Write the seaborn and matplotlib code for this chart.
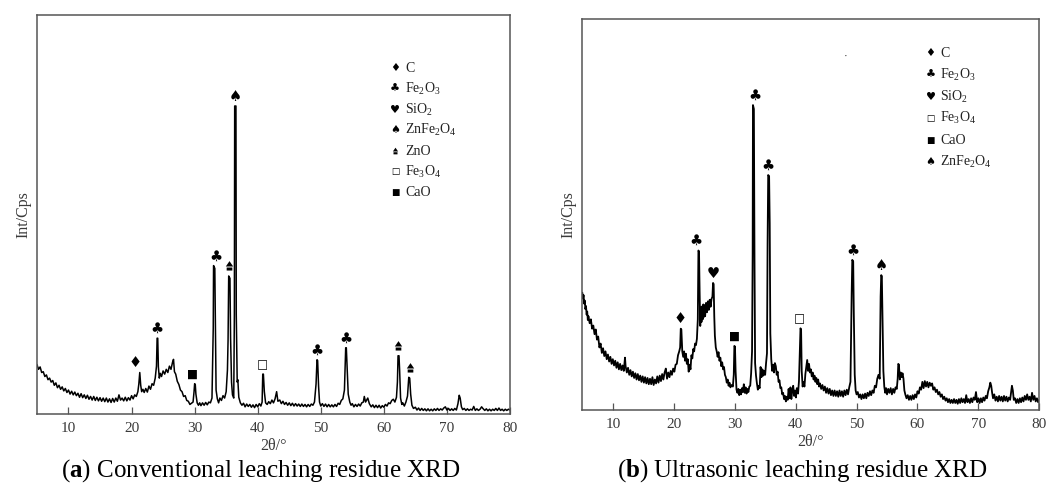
import numpy as np
import matplotlib
matplotlib.use("Agg")
import matplotlib.pyplot as plt
import matplotlib.transforms as mtransforms
from matplotlib.path import Path
import seaborn as sns

# ---------------------------------------------------------------------------
# XRD patterns: (2θ in degrees, intensity in arbitrary counts)
# ---------------------------------------------------------------------------
conv_pattern = [
    (5.0, 124), (5.25, 112), (5.5, 118), (5.75, 104),
    (6.0, 106), (6.25, 94), (6.5, 98), (6.75, 86),
    (7.0, 90), (7.25, 80), (7.5, 84), (7.75, 72),
    (8.0, 78), (8.25, 66), (8.5, 72), (8.75, 62),
    (9.0, 68), (9.25, 58), (9.5, 64), (9.75, 54),
    (10.0, 60), (10.25, 50), (10.5, 57), (10.75, 48),
    (11.0, 55), (11.25, 46), (11.5, 52), (11.75, 42),
    (12.0, 51), (12.25, 41), (12.5, 48), (12.75, 39),
    (13.0, 47), (13.25, 37), (13.5, 44), (13.75, 35),
    (14.0, 44), (14.25, 34), (14.5, 42), (14.75, 33),
    (15.0, 41), (15.25, 32), (15.5, 40), (15.75, 31),
    (16.0, 40), (16.25, 30), (16.5, 38), (16.75, 29),
    (17.0, 39), (17.25, 30), (17.5, 40), (17.75, 32),
    (18.0, 48), (18.25, 35), (18.5, 40), (18.75, 33),
    (19.0, 42), (19.25, 33), (19.5, 41), (19.75, 35),
    (20.0, 46), (20.25, 38), (20.5, 48), (20.75, 44),
    (21.0, 56), (21.15, 75), (21.3, 104), (21.45, 72), (21.6, 56), (21.8, 62),
    (22.0, 54), (22.25, 64), (22.5, 55), (22.75, 70),
    (23.0, 62), (23.25, 76), (23.5, 72), (23.75, 90),
    (23.95, 120), (24.05, 190), (24.15, 190), (24.25, 118), (24.4, 90), (24.55, 102),
    (24.75, 94), (25.0, 108), (25.25, 100), (25.5, 112), (25.75, 104), (26.0, 120),
    (26.25, 112), (26.5, 130), (26.65, 137), (26.8, 106),
    (27.0, 100), (27.25, 82), (27.5, 74), (27.75, 60),
    (28.0, 56), (28.25, 44), (28.5, 46), (28.75, 34),
    (29.0, 32), (29.25, 24), (29.5, 27), (29.75, 30),
    (29.9, 55), (30.0, 76), (30.1, 74), (30.2, 50), (30.4, 28), (30.6, 22), (30.8, 28),
    (31.0, 21), (31.25, 28), (31.5, 22), (31.75, 29),
    (32.0, 23), (32.25, 30), (32.5, 28), (32.75, 40),
    (32.95, 215), (33.0, 372), (33.2, 365), (33.3, 205), (33.4, 60), (33.6, 38), (33.8, 28),
    (34.0, 40), (34.25, 34), (34.5, 46), (34.75, 40),
    (35.0, 56), (35.2, 110), (35.3, 185), (35.4, 346), (35.6, 340), (35.7, 190),
    (35.85, 80), (36.0, 48), (36.2, 40),
    (36.3, 250), (36.35, 772), (36.55, 772), (36.6, 250), (36.75, 80), (36.85, 86), (37.0, 42),
    (37.25, 28), (37.5, 22), (37.75, 27),
    (38.0, 18), (38.25, 25), (38.5, 19), (38.75, 24),
    (39.0, 17), (39.25, 23), (39.5, 16), (39.75, 24),
    (40.0, 18), (40.25, 26), (40.5, 20), (40.7, 30),
    (40.8, 100), (40.9, 100), (41.05, 56), (41.25, 28), (41.5, 24), (41.75, 31),
    (42.0, 26), (42.25, 35), (42.5, 28), (42.75, 38),
    (43.0, 56), (43.2, 32), (43.5, 35), (43.75, 26),
    (44.0, 32), (44.25, 24), (44.5, 29), (44.75, 22),
    (45.0, 28), (45.25, 21), (45.5, 27), (45.75, 20),
    (46.0, 26), (46.25, 20), (46.5, 25), (46.75, 19),
    (47.0, 25), (47.25, 19), (47.5, 24), (47.75, 18),
    (48.0, 24), (48.25, 19), (48.5, 25), (48.75, 22),
    (49.0, 30), (49.25, 75), (49.4, 136), (49.5, 134), (49.65, 70), (49.8, 30),
    (50.0, 20), (50.25, 26), (50.5, 19), (50.75, 25),
    (51.0, 18), (51.25, 24), (51.5, 18), (51.75, 23),
    (52.0, 18), (52.25, 24), (52.5, 19), (52.75, 27),
    (53.0, 24), (53.25, 34), (53.5, 38), (53.75, 60),
    (53.95, 166), (54.05, 166), (54.2, 110), (54.35, 50), (54.6, 30), (54.8, 22),
    (55.0, 26), (55.25, 18), (55.5, 24), (55.75, 19),
    (56.0, 25), (56.25, 20), (56.5, 28), (56.75, 30),
    (56.9, 44), (57.1, 30), (57.3, 36), (57.45, 40), (57.7, 26),
    (58.0, 18), (58.25, 23), (58.5, 16), (58.75, 22),
    (59.0, 16), (59.25, 22), (59.5, 15), (59.75, 21),
    (60.0, 17), (60.25, 24), (60.5, 20), (60.75, 28),
    (61.0, 26), (61.25, 34), (61.5, 37), (61.75, 30),
    (62.0, 42), (62.15, 80), (62.25, 146), (62.4, 146), (62.5, 110), (62.65, 40), (62.85, 24),
    (63.0, 28), (63.25, 20), (63.5, 30), (63.75, 45),
    (63.95, 92), (64.1, 90), (64.25, 50), (64.45, 22), (64.7, 14),
    (65.0, 17), (65.25, 10), (65.5, 15), (65.75, 9),
    (66.0, 14), (66.25, 9), (66.5, 13), (66.75, 8),
    (67.0, 13), (67.25, 8), (67.5, 12), (67.75, 8),
    (68.0, 13), (68.25, 9), (68.5, 14), (68.75, 9),
    (69.0, 13), (69.25, 10), (69.5, 15), (69.75, 18),
    (70.0, 10), (70.25, 14), (70.5, 9), (70.75, 13),
    (71.0, 9), (71.25, 14), (71.5, 10), (71.75, 26),
    (71.95, 47), (72.1, 40), (72.3, 18), (72.5, 11), (72.75, 14),
    (73.0, 9), (73.25, 13), (73.5, 9), (73.75, 12),
    (74.0, 10), (74.25, 19), (74.5, 9), (74.75, 13),
    (75.0, 9), (75.25, 12), (75.5, 18), (75.7, 14),
    (76.0, 9), (76.25, 13), (76.5, 8), (76.75, 12),
    (77.0, 8), (77.25, 12), (77.5, 9), (77.75, 14),
    (78.0, 9), (78.25, 15), (78.5, 9), (78.75, 12),
    (79.0, 8), (79.25, 12), (79.5, 9), (79.75, 12),
    (80.0, 10),
]

ultra_pattern = [
    (5.0, 300), (5.1, 285), (5.2, 294), (5.3, 272), (5.4, 280), (5.5, 258),
    (5.6, 266), (5.7, 244), (5.8, 252), (5.9, 230),
    (6.0, 240), (6.2, 222), (6.4, 232), (6.6, 208), (6.8, 216),
    (7.0, 194), (7.2, 206), (7.4, 180), (7.6, 188), (7.8, 160),
    (8.0, 170), (8.2, 146), (8.4, 158), (8.6, 138), (8.8, 150),
    (9.0, 130), (9.2, 142), (9.4, 124), (9.6, 136), (9.8, 118),
    (10.0, 130), (10.2, 114), (10.4, 126), (10.6, 108), (10.8, 122),
    (11.0, 104), (11.2, 118), (11.4, 102), (11.6, 114), (11.8, 100),
    (12.0, 134), (12.1, 112), (12.3, 96), (12.5, 108), (12.7, 90), (12.9, 102),
    (13.1, 86), (13.3, 98), (13.5, 82), (13.7, 94), (13.9, 78),
    (14.1, 92), (14.3, 76), (14.5, 88), (14.7, 72), (14.9, 86),
    (15.1, 70), (15.3, 84), (15.5, 68), (15.7, 82), (15.9, 66),
    (16.1, 80), (16.3, 66), (16.5, 84), (16.7, 64), (16.9, 78),
    (17.1, 68), (17.3, 86), (17.5, 70), (17.7, 88), (17.9, 74),
    (18.1, 92), (18.3, 78), (18.5, 96), (18.7, 106), (18.9, 80),
    (19.1, 96), (19.3, 84), (19.5, 100), (19.7, 90), (19.9, 106),
    (20.1, 98), (20.3, 116), (20.5, 118), (20.7, 140), (20.9, 150),
    (21.05, 160), (21.15, 208), (21.25, 206), (21.4, 150), (21.55, 136), (21.7, 150),
    (21.85, 126), (22.0, 144), (22.15, 118), (22.3, 130), (22.45, 98), (22.6, 116),
    (22.75, 104), (22.9, 140), (23.05, 132), (23.2, 156), (23.35, 150), (23.5, 170),
    (23.65, 166), (23.8, 182),
    (23.95, 232), (24.05, 408), (24.15, 405), (24.25, 300), (24.35, 215),
    (24.45, 262), (24.55, 225), (24.65, 265), (24.75, 232), (24.85, 270), (24.95, 238),
    (25.05, 268), (25.15, 240), (25.3, 274), (25.45, 250), (25.6, 278), (25.75, 256),
    (25.9, 282), (26.05, 264), (26.2, 284), (26.35, 290),
    (26.45, 325), (26.55, 322), (26.65, 240), (26.75, 190), (26.9, 160),
    (27.05, 150), (27.2, 136), (27.35, 148), (27.5, 126), (27.65, 134), (27.8, 112),
    (27.95, 122), (28.1, 104), (28.25, 110), (28.4, 90), (28.55, 84), (28.7, 70),
    (28.85, 78), (29.0, 62), (29.15, 70), (29.3, 58), (29.5, 64), (29.7, 60), (29.85, 90),
    (29.95, 164), (30.05, 162), (30.15, 100), (30.3, 52), (30.45, 44),
    (30.6, 54), (30.75, 38), (30.9, 52), (31.05, 40), (31.2, 56), (31.35, 46),
    (31.5, 66), (31.65, 44), (31.8, 58), (31.95, 42),
    (32.1, 54), (32.25, 46), (32.4, 60), (32.55, 62), (32.7, 94), (32.85, 150),
    (32.95, 400), (33.0, 780), (33.15, 770), (33.25, 392), (33.35, 120), (33.5, 88),
    (33.65, 68), (33.8, 52), (33.95, 62), (34.1, 56), (34.25, 110), (34.4, 84),
    (34.55, 104), (34.7, 88), (34.85, 100), (35.0, 90), (35.15, 120),
    (35.3, 145), (35.4, 426), (35.5, 601), (35.65, 598), (35.75, 477), (35.85, 196),
    (36.0, 130), (36.15, 100), (36.3, 116), (36.45, 96), (36.6, 120), (36.75, 112),
    (36.9, 90), (37.05, 98), (37.2, 72), (37.35, 76), (37.5, 56), (37.65, 58), (37.8, 40),
    (37.95, 44), (38.1, 28), (38.25, 36), (38.4, 22), (38.55, 34), (38.7, 26),
    (38.85, 54), (39.0, 30), (39.15, 58), (39.3, 28), (39.45, 50), (39.6, 62),
    (39.75, 36), (39.9, 50), (40.05, 32), (40.2, 56), (40.4, 42), (40.55, 74),
    (40.7, 150), (40.8, 209), (40.9, 205), (41.0, 100), (41.15, 60),
    (41.3, 72), (41.45, 60), (41.6, 92), (41.75, 110), (41.9, 128), (42.05, 100),
    (42.2, 118), (42.35, 96), (42.5, 104), (42.65, 86), (42.8, 96), (42.95, 78),
    (43.1, 88), (43.25, 72), (43.4, 82), (43.55, 66), (43.7, 78), (43.85, 60),
    (44.0, 68), (44.2, 54), (44.4, 64), (44.6, 50), (44.8, 60), (45.0, 44),
    (45.2, 56), (45.4, 42), (45.6, 54), (45.8, 38), (46.0, 50), (46.2, 36),
    (46.4, 50), (46.6, 36), (46.8, 48), (47.0, 34), (47.2, 50), (47.4, 36),
    (47.6, 48), (47.8, 34), (48.0, 50), (48.2, 38), (48.4, 52), (48.6, 40),
    (48.8, 58), (49.0, 72), (49.2, 298), (49.3, 384), (49.45, 380), (49.55, 247), (49.7, 90),
    (49.85, 50), (50.0, 40), (50.2, 46), (50.4, 32), (50.6, 40), (50.8, 28),
    (51.0, 40), (51.2, 30), (51.4, 42), (51.6, 30), (51.8, 44), (52.0, 36),
    (52.2, 48), (52.4, 38), (52.6, 50), (52.8, 44), (53.0, 62), (53.2, 58),
    (53.4, 80), (53.6, 90), (53.8, 80), (53.95, 290), (54.05, 345), (54.15, 342), (54.25, 247),
    (54.4, 100), (54.55, 60), (54.7, 44), (54.85, 56), (55.0, 40), (55.2, 54),
    (55.4, 44), (55.6, 56), (55.8, 40), (56.0, 54), (56.2, 44), (56.4, 58),
    (56.6, 54), (56.75, 80), (56.85, 118), (56.95, 116), (57.1, 78), (57.25, 96),
    (57.4, 84), (57.55, 94), (57.7, 80), (57.85, 50), (58.0, 40), (58.2, 30),
    (58.4, 38), (58.6, 26), (58.8, 36), (59.0, 26), (59.2, 38), (59.4, 28),
    (59.6, 40), (59.8, 32), (60.0, 48), (60.2, 42), (60.4, 58), (60.6, 52),
    (60.8, 72), (61.0, 56), (61.2, 74), (61.4, 60), (61.6, 72), (61.8, 58),
    (62.0, 70), (62.2, 62), (62.4, 68), (62.6, 52), (62.8, 58), (63.0, 46),
    (63.2, 52), (63.4, 40), (63.6, 46), (63.8, 34), (64.0, 40), (64.2, 28),
    (64.4, 34), (64.6, 24), (64.8, 30), (65.0, 20), (65.2, 28), (65.4, 18),
    (65.6, 26), (65.8, 18), (66.0, 28), (66.2, 18), (66.4, 26), (66.6, 16),
    (66.8, 28), (67.0, 18), (67.2, 30), (67.4, 20), (67.6, 28), (67.8, 18),
    (68.0, 38), (68.2, 20), (68.4, 28), (68.6, 18), (68.8, 30), (69.0, 20),
    (69.2, 32), (69.4, 26), (69.6, 46), (69.8, 20), (70.0, 30), (70.2, 18),
    (70.4, 30), (70.6, 20), (70.8, 32), (71.0, 24), (71.2, 36), (71.4, 30),
    (71.6, 48), (71.8, 58), (71.95, 70), (72.1, 62), (72.25, 44), (72.4, 30),
    (72.6, 40), (72.8, 24), (73.0, 34), (73.2, 22), (73.4, 36), (73.6, 24),
    (73.8, 34), (74.0, 22), (74.2, 36), (74.4, 24), (74.6, 34), (74.8, 22),
    (75.0, 32), (75.2, 26), (75.4, 50), (75.5, 62), (75.65, 50), (75.8, 26),
    (76.0, 30), (76.2, 18), (76.4, 28), (76.6, 18), (76.8, 30), (77.0, 20),
    (77.2, 32), (77.4, 22), (77.6, 36), (77.8, 26), (78.0, 40), (78.2, 26),
    (78.4, 34), (78.6, 22), (78.8, 44), (79.0, 26), (79.2, 36), (79.4, 22),
    (79.6, 30), (79.8, 20), (80.0, 26),
]

# Phase assignment of the labelled reflections
conv_peak_pos = [20.6, 24.0, 29.6, 33.3, 35.5, 36.5, 40.8, 49.4, 54.0, 62.2, 64.1]
conv_peak_phase = ["C", "Fe2O3", "CaO", "Fe2O3", "ZnO", "ZnFe2O4", "Fe3O4",
                   "Fe2O3", "Fe2O3", "ZnO", "ZnO"]
ultra_peak_pos = [21.0, 23.7, 26.5, 30.0, 33.3, 35.5, 40.6, 49.4, 54.1]
ultra_peak_phase = ["C", "Fe2O3", "SiO2", "CaO", "Fe2O3", "Fe2O3", "Fe3O4",
                    "Fe2O3", "ZnFe2O4"]

conv_legend = ["C", "Fe2O3", "SiO2", "ZnFe2O4", "ZnO", "Fe3O4", "CaO"]
ultra_legend = ["C", "Fe2O3", "SiO2", "Fe3O4", "CaO", "ZnFe2O4"]

x_ticks = [10, 20, 30, 40, 50, 60, 70, 80]

captions = [r"($\mathbf{a}$) Conventional leaching residue XRD",
            r"($\mathbf{b}$) Ultrasonic leaching residue XRD"]

# ---------------------------------------------------------------------------
phase_glyph = {"C": "\u2666", "Fe2O3": "\u2663", "SiO2": "\u2665",
               "ZnFe2O4": "\u2660", "Fe3O4": "\u25a1", "CaO": "\u25a0"}
# the square glyphs run larger than the card suits, so they are drawn smaller
glyph_scale = {"Fe3O4": 0.8, "CaO": 0.8}
phase_label = {"C": "C", "Fe2O3": r"Fe$_2$O$_3$", "SiO2": r"SiO$_2$",
               "ZnFe2O4": r"ZnFe$_2$O$_4$", "ZnO": "ZnO",
               "Fe3O4": r"Fe$_3$O$_4$", "CaO": "CaO"}

# ZnO marker: a pointed cap over a small bar
_zno_verts = [(-0.55, 0.0), (0.0, 0.8), (0.55, 0.0), (-0.55, 0.0),
              (-0.42, -0.15), (0.42, -0.15), (0.42, -0.6), (-0.42, -0.6), (-0.42, -0.15)]
_zno_codes = [Path.MOVETO, Path.LINETO, Path.LINETO, Path.CLOSEPOLY,
              Path.MOVETO, Path.LINETO, Path.LINETO, Path.LINETO, Path.CLOSEPOLY]
zno_marker = Path(_zno_verts, _zno_codes)

sns.set_theme(style="white")
plt.rcParams["font.family"] = ["Liberation Serif", "DejaVu Serif"]
plt.rcParams["mathtext.fontset"] = "custom"
plt.rcParams["mathtext.rm"] = "Liberation Serif"
plt.rcParams["mathtext.it"] = "Liberation Serif:italic"
plt.rcParams["mathtext.bf"] = "Liberation Serif:bold"

fig = plt.figure(figsize=(10.47, 4.88), dpi=100)
ax_a = fig.add_axes([0.0353, 0.1516, 0.4518, 0.8176])
ax_b = fig.add_axes([0.5562, 0.1598, 0.4365, 0.8012])

SPINE = "#555555"
GLYPH_FONT = ["DejaVu Sans"]


def peak_top(xs, ys, pos, half=0.7):
    xs = np.asarray(xs, float)
    ys = np.asarray(ys, float)
    sel = (xs >= pos - half) & (xs <= pos + half)
    return ys[sel].max()


def draw_symbol(ax, phase, x, y, transform, size=10, msize=40):
    if phase == "ZnO":
        ax.scatter([x], [y], marker=zno_marker, s=msize, color="black",
                   linewidths=0, transform=transform, clip_on=False, zorder=5)
    else:
        ax.text(x, y, phase_glyph[phase], transform=transform, ha="center",
                va="center", fontsize=size * glyph_scale.get(phase, 1.0),
                family=GLYPH_FONT, color="black", zorder=5)


def panel(ax, pattern, peak_pos, peak_phase, legend, leg_x, leg_y0, leg_dy, lw):
    xs = [p[0] for p in pattern]
    ys = [p[1] for p in pattern]
    sns.lineplot(x=xs, y=ys, ax=ax, color="black", linewidth=lw,
                 estimator=None, sort=False)
    ax.set_xlim(5, 80)
    ax.set_ylim(0, 1000)
    ax.set_xticks(x_ticks)
    ax.set_yticks([])
    ax.tick_params(axis="x", direction="in", length=5, width=0.9,
                   color=SPINE, labelsize=11, labelcolor="#3a3a3a", pad=6,
                   bottom=True)
    for sp in ax.spines.values():
        sp.set_color(SPINE)
        sp.set_linewidth(1.1)
    ax.set_xlabel("2\u03b8/\u00b0", fontsize=11.5, color="#3a3a3a", labelpad=2)
    ax.set_ylabel("Int/Cps", fontsize=11.5, color="#3a3a3a", labelpad=4)

    lift = mtransforms.ScaledTranslation(0, 7 / 72, fig.dpi_scale_trans)
    for pos, ph in zip(peak_pos, peak_phase):
        top = peak_top(xs, ys, pos)
        draw_symbol(ax, ph, pos, top, ax.transData + lift, size=10.5, msize=60)

    for i, ph in enumerate(legend):
        yy = leg_y0 - i * leg_dy
        draw_symbol(ax, ph, leg_x, yy, ax.transAxes, size=8, msize=30)
        ax.text(leg_x + 0.021, yy, phase_label[ph], transform=ax.transAxes,
                ha="left", va="center", fontsize=10, color="#222222")


panel(ax_a, conv_pattern, conv_peak_pos, conv_peak_phase,
      conv_legend, 0.757, 0.867, 0.052, 1.1)
panel(ax_b, ultra_pattern, ultra_peak_pos, ultra_peak_phase,
      ultra_legend, 0.762, 0.912, 0.0554, 1.3)

# small speck in the upper plot area of panel (b)
ax_b.text(0.577, 0.905, "\u00b7", transform=ax_b.transAxes, ha="center",
          va="center", fontsize=8, color="#333333")

fig.text(0.249, 0.036, captions[0], ha="center", va="center", fontsize=18,
         color="black")
fig.text(0.766, 0.036, captions[1], ha="center", va="center", fontsize=18,
         color="black")

fig.savefig("out.png", dpi=100, facecolor="white")
